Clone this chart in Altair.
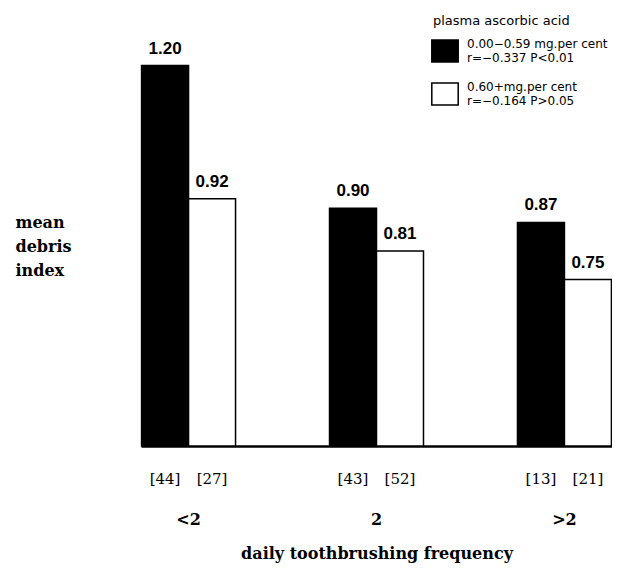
import altair as alt
import pandas as pd

groups = ["<2", "2", ">2"]
levels = [
    "0.00\u22120.59 mg.per cent|r=\u22120.337 P<0.01",
    "0.60+mg.per cent|r=\u22120.164 P>0.05",
]
low_values = [1.20, 0.90, 0.87]
high_values = [0.92, 0.81, 0.75]
low_n = ["[44]", "[43]", "[13]"]
high_n = ["[27]", "[52]", "[21]"]

rows = []
for g, v, n in zip(groups, low_values, low_n):
    rows.append({"group": g, "level": levels[0], "value": v, "n": n, "label": f"{v:.2f}"})
for g, v, n in zip(groups, high_values, high_n):
    rows.append({"group": g, "level": levels[1], "value": v, "n": n, "label": f"{v:.2f}"})
df = pd.DataFrame(rows)

SERIF = "DejaVu Serif"
SANS = "Liberation Sans"

x_enc = alt.X(
    "group:N",
    sort=groups,
    scale=alt.Scale(paddingInner=0.5, paddingOuter=0.003),
    axis=alt.Axis(
        title="daily toothbrushing frequency",
        labelAngle=0,
        ticks=False,
        tickSize=0,
        domainColor="black",
        domainWidth=2.5,
        labelFont=SERIF,
        labelFontWeight="bold",
        labelFontSize=16,
        labelColor="black",
        labelBaseline="middle",
        labelPadding=73,
        titleFont=SERIF,
        titleFontSize=16,
        titleFontWeight="bold",
        titleColor="black",
        titleY=107,
        titleBaseline="middle",
    ),
)
xo_enc = alt.XOffset("level:N", sort=levels, scale=alt.Scale(paddingInner=0, paddingOuter=0))
y_enc = alt.Y(
    "value:Q",
    scale=alt.Scale(domain=[0.4, 1.3], zero=False, nice=False),
    axis=alt.Axis(
        title=["mean", "debris", "index"],
        labels=False,
        ticks=False,
        domain=False,
        grid=False,
        titleAngle=0,
        titleAlign="left",
        titleBaseline="alphabetic",
        titleX=-126,
        titleY=209,
        titleFont=SERIF,
        titleFontSize=16,
        titleFontWeight="bold",
        titleLineHeight=24,
        titleColor="black",
    ),
)

base = alt.Chart(df)

bars = base.mark_bar(stroke="black", strokeWidth=1.5).encode(
    x=x_enc,
    xOffset=xo_enc,
    y=y_enc,
    y2=alt.datum(0.4),
    fill=alt.Fill(
        "level:N",
        sort=levels,
        scale=alt.Scale(domain=levels, range=["black", "white"]),
        legend=alt.Legend(
            title="plasma ascorbic acid",
            orient="none",
            legendX=292,
            legendY=-3,
            direction="vertical",
            symbolType="M-1.2,-1H1.2V1H-1.2Z",
            symbolSize=484,
            symbolStrokeColor="black",
            symbolStrokeWidth=1.5,
            symbolOpacity=1,
            labelExpr="split(datum.label, '|')",
            labelBaseline="bottom",
            labelFont="DejaVu Sans",
            labelFontSize=12,
            labelColor="black",
            labelOffset=10,
            labelLimit=300,
            titleFont="DejaVu Sans",
            titleFontSize=13,
            titleFontWeight="normal",
            titleColor="black",
            titlePadding=11,
            rowPadding=15,
            padding=0,
        ),
    ),
)

values_txt = base.mark_text(
    dy=-12, baseline="alphabetic", font=SANS, fontWeight="bold", fontSize=17, color="black"
).encode(x=x_enc, xOffset=xo_enc, y=y_enc, text="label:N")

n_txt = base.mark_text(
    dy=33, baseline="middle", font=SERIF, fontSize=15, color="black"
).encode(x=x_enc, xOffset=xo_enc, y=alt.datum(0.4), text="n:N")

chart = (
    alt.layer(bars, values_txt, n_txt)
    .properties(
        width=471,
        height=428,
        autosize=alt.AutoSizeParams(type="none"),
        padding={"left": 133, "top": 10, "right": 0, "bottom": 121},
        background="white",
    )
    .configure_view(stroke=None)
)

chart.save("out.html", embed_options={"renderer": "svg", "actions": False})
